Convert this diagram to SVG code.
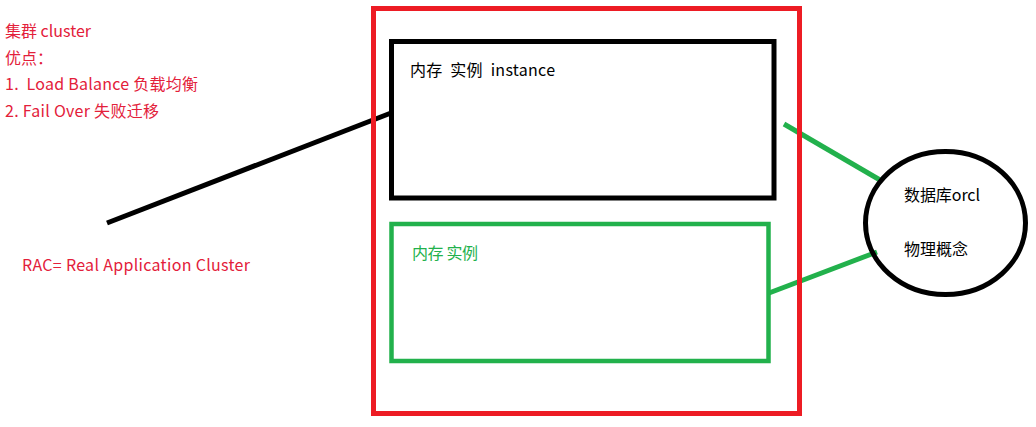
<svg xmlns="http://www.w3.org/2000/svg" width="1036" height="427" viewBox="0 0 1036 427">
<style>
text{font-family:"Microsoft YaHei","Noto Sans CJK SC","Noto Sans",sans-serif;font-size:16px}
.red{fill:#e3203a}
.blk{fill:#000}
.grn{fill:#22b14c}
.box{fill:none}
</style>
<rect width="1036" height="427" fill="#fff"/>
<g id="notes">
<text class="red" x="5" y="37" textLength="86" lengthAdjust="spacing">集群 cluster</text>
<text class="red" x="5" y="64">优点：</text>
<text class="red" x="5" y="90" xml:space="preserve" textLength="193" lengthAdjust="spacing">1.  Load Balance 负载均衡</text>
<text class="red" x="5" y="117" textLength="154" lengthAdjust="spacing">2. Fail Over 失败迁移</text>
<text class="red" x="22" y="271" textLength="228" lengthAdjust="spacing">RAC= Real Application Cluster</text>
</g>
<g id="connectors" stroke-linecap="butt">
<line x1="107" y1="223" x2="391" y2="113" stroke="#000" stroke-width="5"/>
<line x1="784" y1="124" x2="880" y2="180" stroke="#22b14c" stroke-width="5"/>
<line x1="769" y1="293" x2="877" y2="252" stroke="#22b14c" stroke-width="5"/>
</g>
<g id="cluster">
<rect class="box" x="373.5" y="8.5" width="426" height="405" stroke="#ed1c24" stroke-width="5"/>
</g>
<g id="instance1">
<rect class="box" x="391.5" y="41.5" width="382.5" height="156.5" stroke="#000" stroke-width="5"/>
<text class="blk" x="410" y="76" xml:space="preserve" textLength="145" lengthAdjust="spacing">内存  实例  instance</text>
</g>
<g id="instance2">
<rect class="box" x="391.5" y="224" width="377" height="137" stroke="#22b14c" stroke-width="4.5"/>
<text class="grn" x="412" y="259" textLength="66" lengthAdjust="spacing">内存 实例</text>
</g>
<g id="database">
<ellipse cx="945.5" cy="223" rx="80" ry="71.5" fill="none" stroke="#000" stroke-width="5"/>
<text class="blk" x="904" y="201" textLength="76" lengthAdjust="spacing">数据库orcl</text>
<text class="blk" x="904" y="255">物理概念</text>
</g>
</svg>
